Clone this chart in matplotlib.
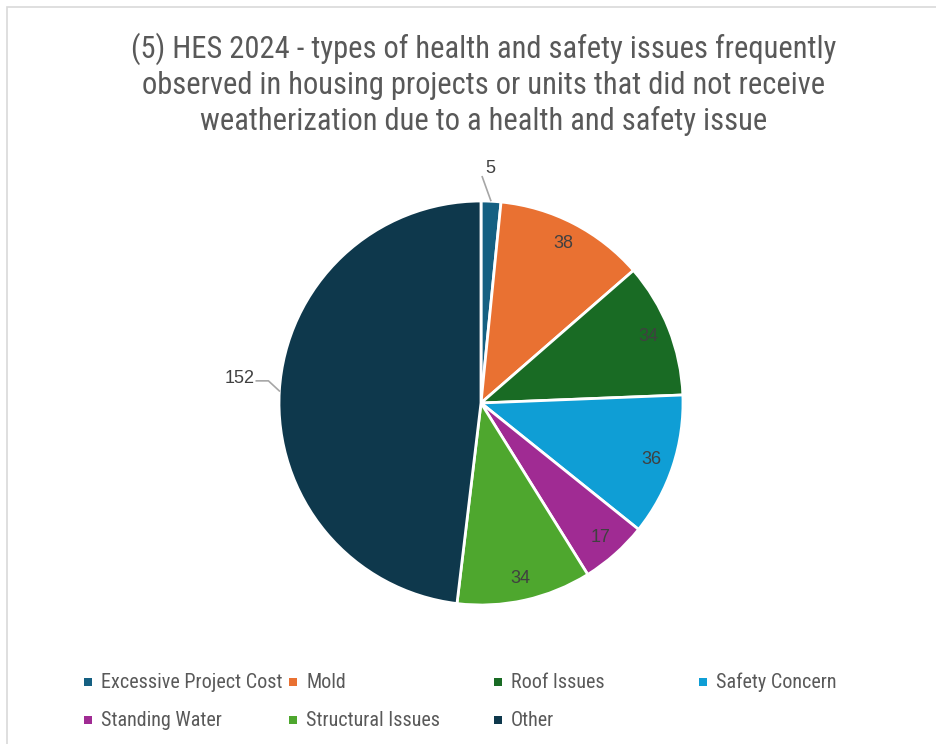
import numpy as np
import matplotlib
matplotlib.use("Agg")
import matplotlib.pyplot as plt
from matplotlib.patches import Rectangle

categories = ["Excessive Project Cost", "Mold", "Roof Issues", "Safety Concern",
              "Standing Water", "Structural Issues", "Other"]
values = [5, 38, 34, 36, 17, 34, 152]
colors = ["#156082", "#E97132", "#196B24", "#0F9ED5", "#A02B93", "#4EA72E", "#0E384C"]
title = ("(5) HES 2024 - types of health and safety issues frequently\n"
         "observed in housing projects or units that did not receive\n"
         "weatherization due to a health and safety issue")

narrow = ["Liberation Sans Narrow", "Roboto Condensed", "DejaVu Sans"]
label_font = ["Liberation Sans", "DejaVu Sans"]
leader = "#A6A6A6"

W, H = 936, 744
fig = plt.figure(figsize=(W / 100, H / 100), dpi=100)

# chart area border (cropped at right/bottom like the screenshot)
fig.patches.append(Rectangle((7 / W, -0.01), 1.0, 1.0 - 7 / H + 0.01,
                             transform=fig.transFigure, fill=False,
                             edgecolor="#D9D9D9", linewidth=1.2))

fig.text(484 / W, 1 - 84 / H, title, ha="center", va="center", fontsize=22,
         color="#595959", family=narrow, linespacing=1.25)

# pie: centre (481, 403) px, radius 202 px
side = 606
ax = fig.add_axes([(481 - side / 2) / W, (H - 403 - side / 2) / H, side / W, side / H])
wedges, _ = ax.pie(values, colors=colors, startangle=90, counterclock=False,
                   radius=1.0, wedgeprops=dict(edgecolor="white", linewidth=2))
ax.set_xlim(-1.5, 1.5)
ax.set_ylim(-1.5, 1.5)
ax.set_aspect("equal")
ax.axis("off")

total = sum(values)
for w, v in zip(wedges, values):
    ang = np.deg2rad((w.theta1 + w.theta2) / 2)
    x, y = np.cos(ang), np.sin(ang)
    if v / total < 0.03:
        # small slice: label above with a short leader
        ax.plot([x, x - 0.045], [y, y + 0.125], color=leader, lw=1.2,
                solid_capstyle="butt")
        ax.text(x - 0.005, y + 0.16, str(v), ha="center", va="center",
                fontsize=13, color="#404040", family=label_font)
    elif v / total > 0.4:
        # big slice: label to the left, elbow leader
        ex, ey = x - 0.054, y + 0.05
        ax.plot([x, ex, ex - 0.06], [y, ey, ey], color=leader, lw=1.2)
        ax.text(ex - 0.07, ey + 0.012, str(v), ha="right", va="center",
                fontsize=13, color="#404040", family=label_font)
    else:
        ax.text(0.89 * x, 0.89 * y, str(v), ha="center", va="center",
                fontsize=13, color="#404040", family=label_font)

# legend laid out like Excel: 4 fixed-width columns
for i, (name, c) in enumerate(zip(categories, colors)):
    col, row = i % 4, i // 4
    lx = 84 + col * 205
    ly = 682 + row * 38
    fig.patches.append(Rectangle((lx / W, 1 - (ly + 4) / H), 8 / W, 8 / H,
                                 transform=fig.transFigure, facecolor=c,
                                 edgecolor="none"))
    fig.text((lx + 17) / W, 1 - ly / H, name, ha="left", va="center",
             fontsize=14.5, color="#595959", family=narrow)

fig.savefig("out.png", dpi=100)
